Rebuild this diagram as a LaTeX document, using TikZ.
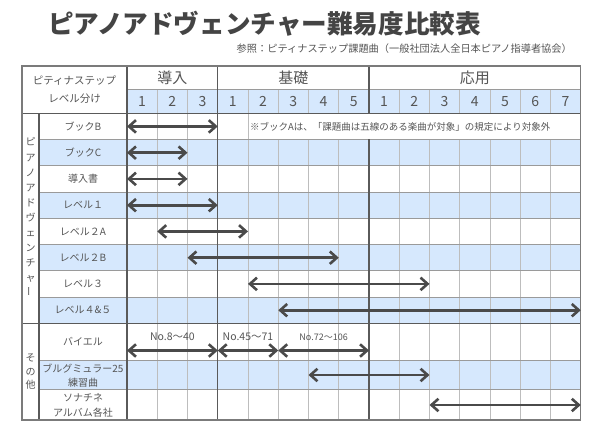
\documentclass[tikz,border=0pt]{standalone}
\usepackage{fontspec}
\setmainfont{Noto Sans CJK JP}
\usetikzlibrary{arrows.meta}
\definecolor{rowblue}{HTML}{D6E8FD}
\definecolor{txt}{HTML}{555555}
\definecolor{ttl}{HTML}{444444}
\definecolor{arr}{HTML}{4A4A4A}
\definecolor{darkline}{HTML}{5A5A5A}
\definecolor{midline}{HTML}{9A9A9A}
\definecolor{lightline}{HTML}{BDBDBD}
\begin{document}
\begin{tikzpicture}[x=1pt,y=-1pt,
  lbl/.style={text=txt, font=\fontsize{10}{14.4}\selectfont, inner sep=0pt, align=center},
  hdr/.style={text=txt, font=\fontsize{10.5}{17.6}\selectfont, inner sep=0pt, align=center},
  num/.style={text=txt, font=\fontsize{14}{14}\selectfont, inner sep=0pt},
  grp/.style={text=txt, font=\fontsize{15}{15}\selectfont, inner sep=0pt},
  nolbl/.style={text=txt, font=\fontsize{10.5}{12}\selectfont, inner sep=0pt},
  dbl/.style={draw=arr, line width=2.6pt, {Straight Barb[length=7pt,width=12.5pt]}-{Straight Barb[length=7pt,width=12.5pt]}},
  light/.style={draw=lightline, line width=0.9pt},
  mid/.style={draw=midline, line width=0.9pt},
  dark/.style={draw=darkline, line width=1.2pt}]
\useasboundingbox (0,0) rectangle (600,439);
\fill[white] (0,0) rectangle (600,439);
% fills
\fill[rowblue] (127,89.3) rectangle (580.75,113.3);
\foreach \k in {1,3,5,7} \fill[rowblue] (39,{113.3+26.25*\k}) rectangle (580.75,{113.3+26.25*(\k+1)});
\fill[rowblue] (39,360.7) rectangle (580.75,389.3);
% light verticals
\foreach \i in {1,2,4,5,6,7,9,10,11,12,13,14} \draw[light] ({127+30.25*\i},89.3) -- ({127+30.25*\i},420);
% horizontals
\foreach \y in {139.55,165.8,192.05,218.3,244.55,270.8,297.05,360.7,389.3} \draw[mid] (39,\y) -- (580.75,\y);
\draw[mid] (127,89.3) -- (580.75,89.3);
% dark verticals
\draw[dark] (39,113.3) -- (39,420);
\foreach \i in {0,3,8} \draw[dark] ({127+30.25*\i},66) -- ({127+30.25*\i},420);
% note box cover
\fill[white] ({127+30.25*4+0.6},113.3) rectangle (580.75,139.1);
\draw[dark] (22,113.3) -- (580.75,113.3);
\draw[dark] (22,323.3) -- (580.75,323.3);
\draw[draw=midline!80!black, line width=1.1pt] (22,66) rectangle (580.75,420);
% title
\node[anchor=west, text=ttl, font=\fontsize{25.6}{26}\selectfont\bfseries, inner sep=0pt] (title) at (48,24) {ピアノアドヴェンチャー難易度比較表};
\node[anchor=east, text=txt, font=\fontsize{10.2}{11}\selectfont, inner sep=0pt] (sub) at (572,49) {参照：ピティナステップ課題曲（一般社団法人全日本ピアノ指導者協会）};
% header
\node[hdr] (hdrlvl) at (74.5,89.5) {ピティナステップ\\レベル分け};
\node[grp] (g1) at ({127+30.25*1.5},77.7) {導入};
\node[grp] (g2) at ({127+30.25*5.5},77.7) {基礎};
\node[grp] (g3) at ({127+30.25*11.5},77.7) {応用};
\foreach \n [count=\i from 0] in {1,2,3,1,2,3,4,5,1,2,3,4,5,6,7}
  \node[num] (n\i) at ({127+30.25*(\i+0.5)},101.3) {\n};
% side labels
\node[text=txt, font=\fontsize{10}{15.1}\selectfont, inner sep=0pt, align=center] (side1) at (30.5,217.4)
  {ピ\\ア\\ノ\\ア\\ド\\ヴ\\ェ\\ン\\チ\\ャ\\\rotatebox{90}{ー}};
\node[text=txt, font=\fontsize{10}{13.5}\selectfont, inner sep=0pt, align=center] (side2) at (30.5,371.7) {そ\\の\\他};
% row labels
\node[lbl] (r0) at (83,126.4) {ブックB};
\node[lbl] (r1) at (83,152.7) {ブックC};
\node[lbl] (r2) at (83,178.9) {導入書};
\node[lbl] (r3) at (83,205.2) {レベル１};
\node[lbl] (r4) at (83,231.4) {レベル２A};
\node[lbl] (r5) at (83,257.7) {レベル２B};
\node[lbl] (r6) at (83,283.9) {レベル３};
\node[lbl] (r7) at (83,310.2) {レベル４\&５};
\node[lbl] (r8) at (83,342) {バイエル};
\node[lbl] (r9) at (83,375.5) {ブルグミュラー25\\練習曲};
\node[lbl] (r10) at (83,405.5) {ソナチネ\\アルバム各社};
% note
\node[anchor=west, text=txt, font=\fontsize{9.5}{10}\selectfont, inner sep=0pt] (note) at (250,126.4) {※ブックAは、「課題曲は五線のある楽曲が対象」の規定により対象外};
% arrow endpoints
\coordinate (a0l) at (127,126.4); \coordinate (a0r) at ({127+30.25*3},126.4);
\coordinate (a1l) at (127,152.7); \coordinate (a1r) at ({127+30.25*2},152.7);
\coordinate (a2l) at (127,178.9); \coordinate (a2r) at ({127+30.25*2},178.9);
\coordinate (a3l) at (127,205.2); \coordinate (a3r) at ({127+30.25*3},205.2);
\coordinate (a4l) at ({127+30.25*1},231.4); \coordinate (a4r) at ({127+30.25*4},231.4);
\coordinate (a5l) at ({127+30.25*2},257.7); \coordinate (a5r) at ({127+30.25*7},257.7);
\coordinate (a6l) at ({127+30.25*4},283.9); \coordinate (a6r) at ({127+30.25*10},283.9);
\coordinate (a7l) at ({127+30.25*5},310.2); \coordinate (a7r) at ({127+30.25*15},310.2);
\coordinate (b0) at (127,350.5); \coordinate (b1) at ({127+30.25*3},350.5);
\coordinate (b2) at ({127+30.25*5},350.5); \coordinate (b3) at ({127+30.25*8},350.5);
\coordinate (a9l) at ({127+30.25*6},375); \coordinate (a9r) at ({127+30.25*10},375);
\coordinate (a10l) at ({127+30.25*10},405); \coordinate (a10r) at ({127+30.25*15},405);
\draw[dbl] (a0l) -- (a0r);
\draw[dbl] (a1l) -- (a1r);
\draw[dbl] (a2l) -- (a2r);
\draw[dbl] (a3l) -- (a3r);
\draw[dbl] (a4l) -- (a4r);
\draw[dbl] (a5l) -- (a5r);
\draw[dbl] (a6l) -- (a6r);
\draw[dbl] (a7l) -- (a7r);
\draw[dbl] (b0) -- (b1);
\draw[dbl] (b1) -- (b2);
\draw[dbl] (b2) -- (b3);
\draw[dbl] (a9l) -- (a9r);
\draw[dbl] (a10l) -- (a10r);
% bayer labels
\node[nolbl] (l1) at ({127+30.25*1.5},336.5) {No.8〜40};
\node[nolbl] (l2) at ({127+30.25*4},336.5) {No.45〜71};
\node[nolbl, font=\fontsize{9}{10}\selectfont] (l3) at ({127+30.25*6.5},337.5) {No.72〜106};
\end{tikzpicture}
\end{document}
